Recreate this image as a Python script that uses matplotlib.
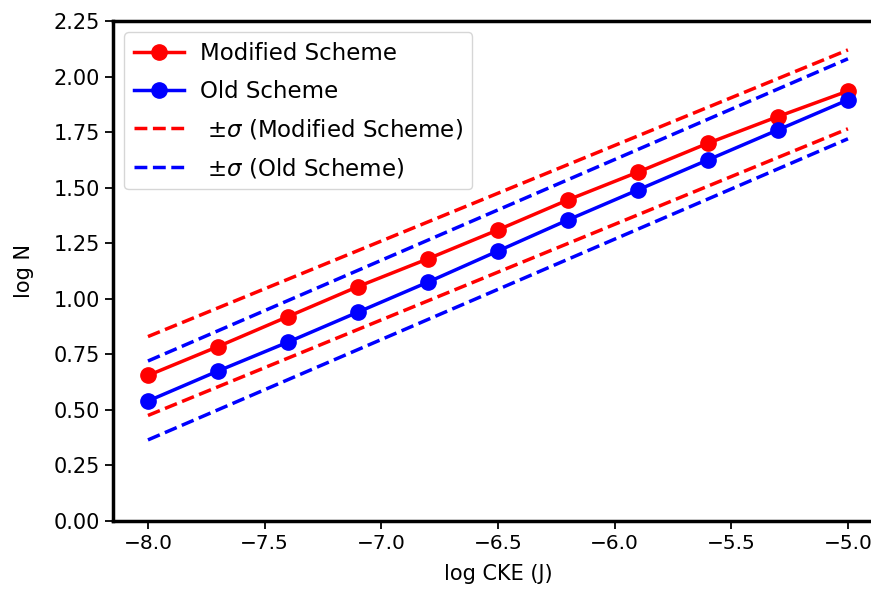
import numpy as np
import matplotlib
matplotlib.use('Agg')
import matplotlib.pyplot as plt

# log CKE (J)
log_cke = [-8.0, -7.7, -7.4, -7.1, -6.8, -6.5, -6.2, -5.9, -5.6, -5.3, -5.0]

# log N for each scheme
modified = [0.655, 0.785, 0.92, 1.055, 1.18, 1.31, 1.445, 1.57, 1.70, 1.82, 1.935]
old = [0.54, 0.675, 0.805, 0.94, 1.075, 1.215, 1.355, 1.49, 1.625, 1.76, 1.895]

# +/- sigma band edges at the two ends
sigma_x = [-8.0, -5.0]
mod_upper = [0.83, 2.12]
mod_lower = [0.475, 1.765]
old_upper = [0.72, 2.08]
old_lower = [0.365, 1.72]

fig = plt.figure(figsize=(8.71, 5.92), dpi=100)
ax = fig.add_axes([0.1297, 0.1199, 0.884, 0.8446])

ax.plot(log_cke, modified, 'o-', color='red', lw=2.5, ms=11, label='Modified Scheme')
ax.plot(log_cke, old, 'o-', color='blue', lw=2.5, ms=11, label='Old Scheme')
ax.plot(sigma_x, mod_upper, '--', color='red', lw=2.5, label=r' $\pm\sigma$ (Modified Scheme)')
ax.plot(sigma_x, mod_lower, '--', color='red', lw=2.5)
ax.plot(sigma_x, old_upper, '--', color='blue', lw=2.5, label=r' $\pm\sigma$ (Old Scheme)')
ax.plot(sigma_x, old_lower, '--', color='blue', lw=2.5)

ax.set_xlim(-8.15, -4.85)
ax.set_ylim(0, 2.25)
ax.set_yticks(np.arange(0, 2.26, 0.25))
ax.set_xticks([-8.0, -7.5, -7.0, -6.5, -6.0, -5.5, -5.0])
ax.tick_params(labelsize=15, width=1.3, length=6)
ax.tick_params(axis='x', labelsize=14.5)
for s in ax.spines.values():
    s.set_linewidth(2.5)

ax.set_xlabel('log CKE (J)', fontsize=15, labelpad=8)
ax.set_ylabel('log N', fontsize=15, labelpad=14)
ax.legend(loc='upper left', fontsize=16.5, handlelength=2.2, handletextpad=0.7,
          labelspacing=0.65)

fig.savefig('out.png', dpi=100)
